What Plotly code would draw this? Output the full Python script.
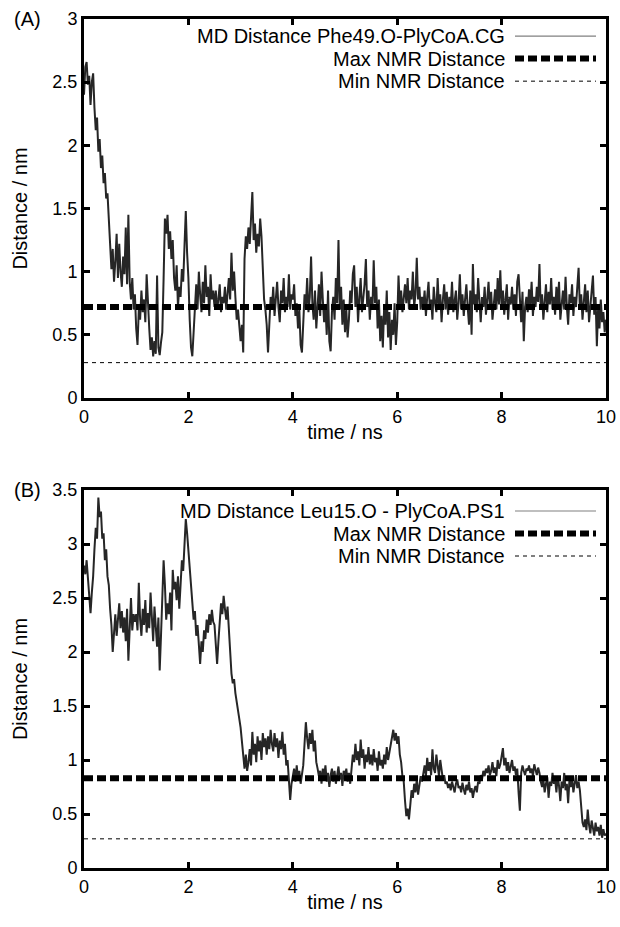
import plotly.graph_objects as go

# ---------------- data ----------------
time_step_ns = 0.025

phe49_distance = [
    2.40, 2.62, 2.66, 2.48, 2.55, 2.32, 2.50, 2.57, 2.30, 2.12, 2.22, 1.95, 2.05, 1.82, 1.92, 1.70, 1.78, 1.58, 1.62, 1.45,
    1.25, 1.02, 1.18, 0.92, 1.08, 1.30, 0.95, 1.22, 1.00, 0.88, 1.12, 0.98, 1.35, 0.90, 1.45, 0.92, 0.78, 0.95, 0.70, 0.82,
    0.55, 0.42, 0.70, 0.62, 0.85, 0.68, 0.78, 0.60, 0.98, 0.72, 0.55, 0.38, 0.48, 0.33, 0.45, 0.35, 0.97, 0.40, 0.34, 0.44,
    0.52, 0.95, 1.42, 1.30, 1.45, 1.18, 1.32, 1.10, 1.25, 0.95, 0.85, 1.05, 0.72, 0.88, 0.80, 1.02, 0.92, 1.20, 1.48, 1.15,
    0.95, 0.62, 0.40, 0.33, 0.55, 0.78, 0.90, 0.70, 1.00, 0.82, 0.68, 0.92, 0.75, 1.05, 0.80, 0.88, 0.65, 0.98, 0.78, 0.85,
    0.72, 0.85, 0.70, 0.78, 0.90, 0.68, 0.80, 0.75, 0.88, 0.70, 0.82, 0.95, 0.78, 1.15, 0.85, 1.00, 0.80, 0.62, 0.70, 0.55,
    0.45, 0.58, 0.36, 1.10, 1.28, 1.18, 1.35, 1.22, 1.40, 1.63, 1.25, 1.38, 1.15, 1.30, 1.20, 1.42, 1.28, 1.05, 0.78, 0.70,
    0.58, 0.36, 0.62, 0.80, 0.70, 0.88, 0.65, 0.78, 0.92, 0.72, 0.60, 0.85, 0.75, 0.95, 0.68, 0.80, 0.72, 0.98, 0.70, 0.82,
    0.78, 0.90, 0.65, 0.75, 0.55, 0.70, 0.42, 0.36, 0.60, 0.82, 0.72, 0.95, 0.68, 0.80, 1.12, 0.75, 0.62, 0.85, 0.55, 0.72,
    0.90, 0.65, 1.00, 0.78, 0.60, 0.72, 0.50, 0.85, 0.45, 0.37, 0.68, 0.80, 0.62, 0.95, 0.75, 1.25, 0.70, 0.88, 0.58, 0.78,
    0.52, 0.70, 0.48, 0.62, 0.85, 0.75, 0.98, 1.05, 0.72, 0.88, 0.60, 0.80, 0.95, 0.68, 0.78, 0.90, 1.10, 0.72, 0.85, 0.62,
    0.80, 0.70, 1.09, 0.75, 0.88, 0.55, 0.78, 0.45, 0.65, 0.40, 0.72, 0.58, 0.85, 0.48, 0.68, 0.38, 0.62, 0.50, 0.75, 0.42,
    0.60, 0.97, 0.72, 0.85, 0.68, 0.80, 0.90, 0.75, 0.95, 0.70, 0.85, 0.78, 1.00, 0.72, 0.82, 1.11, 0.78, 0.88, 0.70, 0.80,
    0.72, 0.85, 0.65, 0.80, 0.92, 0.70, 0.78, 0.62, 0.88, 0.75, 0.68, 0.95, 0.72, 0.82, 0.60, 0.78, 0.90, 0.70, 0.84, 0.66,
    0.80, 0.72, 0.92, 0.68, 0.78, 0.85, 0.62, 0.75, 0.98, 0.70, 0.82, 0.65, 0.78, 0.90, 0.72, 0.58, 0.85, 0.50, 1.06, 0.74,
    0.82, 0.68, 0.95, 0.75, 0.60, 0.80, 0.72, 0.88, 0.66, 0.78, 0.92, 0.70, 0.84, 0.62, 0.76, 0.86, 0.70, 0.95, 0.74, 1.01,
    0.72, 0.85, 0.66, 0.78, 0.90, 0.62, 0.80, 0.74, 0.88, 0.70, 0.82, 0.65, 0.92, 0.98, 0.75, 0.60, 0.84, 0.45, 0.72, 0.80,
    0.68, 0.86, 0.74, 0.92, 0.65, 0.80, 0.72, 0.88, 0.76, 1.06, 0.70, 0.82, 0.62, 0.78, 0.90, 0.68, 0.84, 0.74, 0.95, 0.70,
    0.80, 0.66, 0.88, 0.74, 0.92, 0.62, 0.78, 0.85, 0.70, 0.96, 0.72, 0.58, 0.82, 0.75, 0.90, 0.65, 0.80, 0.72, 0.88, 1.03,
    0.70, 0.82, 0.62, 0.78, 0.90, 0.68, 0.85, 0.60, 0.75, 0.88, 0.97, 0.66, 0.80, 0.41, 0.72, 0.55, 0.78, 0.60, 0.68, 0.52,
    0.62,
]

leu15_distance = [
    2.80, 2.72, 2.85, 2.65, 2.50, 2.36, 2.55, 2.70, 2.95, 3.15, 3.05, 3.43, 3.25, 3.30, 3.05, 3.10, 2.85, 2.95, 2.70, 2.62,
    2.40, 2.25, 2.00, 2.20, 2.35, 2.15, 2.30, 2.45, 2.22, 2.38, 2.18, 2.32, 2.10, 2.40, 1.92, 2.25, 2.50, 2.20, 2.35, 2.28,
    2.35, 2.20, 2.64, 2.30, 2.15, 2.40, 2.25, 2.48, 2.18, 2.36, 2.22, 2.55, 2.30, 2.10, 2.42, 2.25, 2.05, 2.32, 1.83, 2.15,
    2.45, 2.85, 2.62, 2.30, 2.45, 2.35, 2.55, 2.20, 2.76, 2.58, 2.65, 2.48, 2.70, 2.40, 2.62, 2.85, 2.75, 3.05, 3.23, 3.10,
    2.95, 2.76, 2.60, 2.45, 2.30, 2.38, 2.15, 2.25, 2.05, 1.89, 2.10, 2.00, 2.20, 2.12, 2.30, 2.18, 2.35, 2.25, 2.39, 2.28,
    2.25, 2.05, 1.89, 2.10, 2.30, 2.45, 2.35, 2.52, 2.40, 2.30, 2.42, 2.20, 2.05, 1.80, 1.71, 1.75, 1.62, 1.55, 1.45, 1.38,
    1.30, 1.18, 1.02, 0.92, 1.05, 0.90, 0.98, 1.10, 0.95, 1.26, 1.05, 1.15, 0.98, 1.22, 1.08, 1.18, 1.00, 1.25, 1.12, 1.20,
    1.05, 1.22, 1.10, 1.28, 1.15, 1.08, 1.25, 1.12, 1.20, 1.02, 1.18, 1.10, 1.26, 1.05, 1.15, 0.95, 1.00, 0.80, 0.63, 0.78,
    0.85, 0.92, 0.80, 0.95, 0.82, 0.90, 0.78, 0.88, 0.95, 1.15, 1.35, 1.20, 1.10, 1.25, 1.15, 1.28, 1.08, 1.18, 0.98, 0.92,
    0.85, 0.90, 0.78, 0.92, 0.84, 0.95, 0.80, 0.88, 0.75, 0.86, 0.92, 0.80, 0.90, 0.78, 0.85, 0.94, 0.82, 0.88, 0.76, 0.90,
    0.84, 0.92, 0.80, 0.88, 0.78, 0.95, 1.05, 0.98, 1.15, 1.00, 1.08, 0.95, 1.19, 1.02, 1.10, 0.92, 1.05, 0.98, 1.12, 0.96,
    1.05, 0.95, 1.10, 0.98, 1.02, 0.90, 1.08, 0.95, 1.00, 0.92, 1.05, 0.96, 1.12, 1.00, 1.08, 1.15, 1.20, 1.28, 1.18, 1.25,
    1.15, 1.22, 1.05, 0.98, 0.85, 0.80, 0.62, 0.48, 0.55, 0.45, 0.58, 0.72, 0.65, 0.78, 0.70, 0.82, 0.68, 0.75, 0.85, 0.80,
    0.88, 0.95, 0.85, 1.02, 0.90, 0.98, 0.86, 1.10, 0.92, 0.88, 1.05, 0.94, 0.85, 1.00, 0.90, 0.82, 0.86, 0.78, 0.80, 0.74,
    0.78, 0.72, 0.80, 0.75, 0.70, 0.78, 0.82, 0.74, 0.76, 0.70, 0.79, 0.73, 0.68, 0.77, 0.72, 0.80, 0.70, 0.74, 0.65, 0.72,
    0.76, 0.70, 0.80, 0.78, 0.86, 0.82, 0.90, 0.85, 0.92, 0.88, 0.95, 0.86, 0.90, 0.98, 0.88, 0.93, 0.85, 1.00, 0.92, 0.96,
    1.05, 1.11, 0.95, 1.02, 0.90, 0.98, 0.88, 0.95, 1.00, 0.90, 0.94, 0.86, 0.92, 0.70, 0.53, 0.88, 0.95, 0.90, 0.86, 0.92,
    0.90, 0.95, 0.88, 0.92, 0.85, 0.96, 0.90, 0.86, 0.93, 0.88, 0.80, 0.75, 0.82, 0.70, 0.78, 0.84, 0.65, 0.80, 0.76, 0.88,
    0.78, 0.82, 0.70, 0.85, 0.76, 0.62, 0.80, 0.74, 0.88, 0.72, 0.78, 0.60, 0.82, 0.75, 0.84, 0.70, 0.78, 0.86, 0.74, 0.80,
    0.72, 0.55, 0.42, 0.38, 0.45, 0.35, 0.54, 0.40, 0.32, 0.44, 0.36, 0.30, 0.42, 0.34, 0.38, 0.30, 0.40, 0.28, 0.36, 0.30,
    0.32,
]

time_ns_a = [round(i * time_step_ns, 3) for i in range(len(phe49_distance))]
time_ns_b = [round(i * time_step_ns, 3) for i in range(len(leu15_distance))]

nmr_max = {"A": 0.72, "B": 0.83}
nmr_min = {"A": 0.28, "B": 0.27}
x_range = [0, 10]

legend_md = {"A": "MD Distance Phe49.O-PlyCoA.CG", "B": "MD Distance Leu15.O - PlyCoA.PS1"}
legend_max = "Max NMR Distance"
legend_min = "Min NMR Distance"
panel_labels = {"A": "(A)", "B": "(B)"}

# ---------------- styling ----------------
FONT = "Liberation Sans, Arial, sans-serif"
MD_COLOR = "#262626"
W, H = 620, 927
# plot area in page pixels: x 84..606, y 19..868
ML, MR, MT, MB = 84, W - 606, 19, H - 868
plot_h = H - MT - MB
plot_w = W - ML - MR

def ypaper(px):
    return (H - MB - px) / plot_h

domA = [ypaper(398), ypaper(19)]
domB = [0.0, ypaper(490)]

fig = go.Figure()

panels = [("A", "x", "y", time_ns_a, phe49_distance), ("B", "x2", "y2", time_ns_b, leu15_distance)]
for key, xa, ya, t, d in panels:
    fig.add_trace(go.Scatter(x=t, y=d, mode="lines", xaxis=xa, yaxis=ya,
                             line=dict(color=MD_COLOR, width=2), showlegend=False,
                             name=legend_md[key]))
    fig.add_trace(go.Scatter(x=x_range, y=[nmr_max[key]] * 2, mode="lines", xaxis=xa, yaxis=ya,
                             line=dict(color="black", width=6, dash="9px,4px"), showlegend=False,
                             name=legend_max))
    fig.add_trace(go.Scatter(x=x_range, y=[nmr_min[key]] * 2, mode="lines", xaxis=xa, yaxis=ya,
                             line=dict(color="black", width=1, dash="4px,4px"), showlegend=False,
                             name=legend_min))

axis_common = dict(showline=True, linecolor="black", linewidth=3, mirror="ticks",
                   ticks="inside", ticklen=6, tickwidth=2.5, tickcolor="black",
                   showgrid=False, zeroline=False,
                   tickfont=dict(family=FONT, size=18, color="black"))

fig.update_layout(
    width=W, height=H,
    margin=dict(l=ML, r=MR, t=MT, b=MB, autoexpand=False),
    paper_bgcolor="white", plot_bgcolor="white",
    font=dict(family=FONT, color="black"),
    xaxis=dict(axis_common, domain=[0, 1], anchor="y", range=x_range, dtick=2,
               title=dict(text="time / ns", font=dict(size=20), standoff=0)),
    yaxis=dict(axis_common, domain=domA, anchor="x", range=[0, 3], dtick=0.5,
               title=dict(text="Distance / nm", font=dict(size=20), standoff=20)),
    xaxis2=dict(axis_common, domain=[0, 1], anchor="y2", range=x_range, dtick=2,
                title=dict(text="time / ns", font=dict(size=20), standoff=0)),
    yaxis2=dict(axis_common, domain=domB, anchor="x2", range=[0, 3.5], dtick=0.5,
                title=dict(text="Distance / nm", font=dict(size=20), standoff=20)),
)

# legend (gnuplot style: text on the left, sample on the right)
leg_rows = {"A": [36, 58.5, 81], "B": [511, 533.5, 556]}
tops = {"A": 19, "B": 490}
text_x = (506 - 84) / plot_w
samp_x0 = (515 - 84) / plot_w
samp_x1 = (596 - 84) / plot_w
for key, xa, ya, _, _ in panels:
    rows = leg_rows[key]
    texts = [legend_md[key], legend_max, legend_min]
    styles = [dict(color="#808080", width=1.2), dict(color="black", width=6, dash="9px,4px"),
              dict(color="black", width=1, dash="4px,4px")]
    for r, txt, st in zip(rows, texts, styles):
        yd = 1 - (r - tops[key]) / 378.0
        fig.add_annotation(x=text_x, y=yd, xref=f"{xa} domain", yref=f"{ya} domain",
                           text=txt, showarrow=False, xanchor="right", yanchor="middle",
                           borderpad=0, font=dict(family=FONT, size=20, color="black"))
        fig.add_shape(type="line", x0=samp_x0, x1=samp_x1, y0=yd, y1=yd,
                      xref=f"{xa} domain", yref=f"{ya} domain", line=st)
    fig.add_annotation(x=0, y=1, xref="paper", yref=f"{ya} domain", text=panel_labels[key],
                       showarrow=False, xanchor="left", yanchor="middle", xshift=-(84 - 12),
                       font=dict(family=FONT, size=20, color="black"))

fig.write_html("out.html", config={"displayModeBar": False},
               post_script="document.body.style.margin='0px';")
